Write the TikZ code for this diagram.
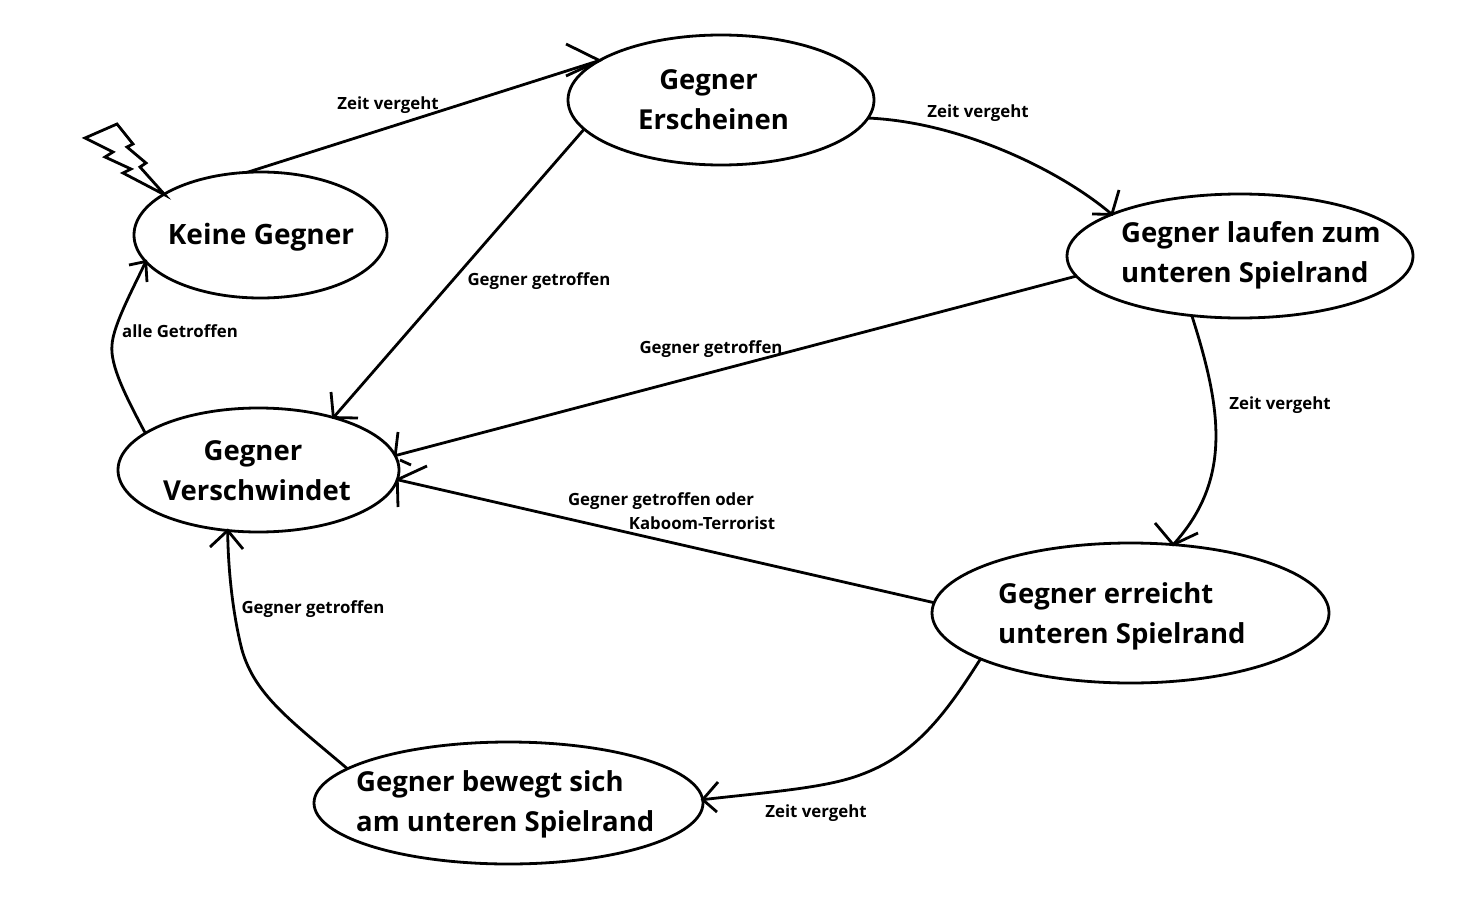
\documentclass[tikz,border=0pt]{standalone}
\usepackage{fontspec}
\setmainfont{Open Sans}
\usetikzlibrary{shapes.geometric}
\tikzset{
  x=1pt,y=-1pt,
  line/.style={line width=2.8pt,black},
  stat/.style={ellipse,draw,line width=2.8pt,inner sep=0pt,outer sep=0pt},
  big/.style={font=\fontsize{27.5}{40}\selectfont\bfseries,inner sep=0pt,align=left,anchor=west},
  bigc/.style={font=\fontsize{27.5}{40}\selectfont\bfseries,inner sep=0pt,align=center},
  small/.style={font=\fontsize{16.8}{24}\selectfont\bfseries,inner sep=0pt}
}
\begin{document}
\begin{tikzpicture}
\useasboundingbox (0,0) rectangle (1467,907);
\fill[white] (0,0) rectangle (1467,907);
% states
\node[stat,minimum width=253pt,minimum height=126pt] (ke) at (260.5,235) {};
\node[stat,minimum width=306pt,minimum height=130pt] (er) at (721,100) {};
\node[stat,minimum width=346pt,minimum height=124pt] (la) at (1240,256) {};
\node[stat,minimum width=397pt,minimum height=140pt] (re) at (1130.5,613) {};
\node[stat,minimum width=389pt,minimum height=122pt] (be) at (508.5,803) {};
\node[stat,minimum width=281pt,minimum height=124pt] (ve) at (258.5,470) {};
% state texts
\node[bigc,font=\fontsize{28}{40}\selectfont\bfseries] (tke) at (261,237) {Keine Gegner};
\node[bigc] (ter) at (713.5,100) {Gegner\hspace*{10pt}\\Erscheinen};
\node[big] (tla) at (1121,255) {Gegner laufen zum\\unteren Spielrand};
\node[big] (tre) at (998,616) {Gegner erreicht\\unteren Spielrand};
\node[big] (tbe) at (356,804) {Gegner bewegt sich\\am unteren Spielrand};
\node[bigc] (tve) at (257,471) {Gegner\hspace*{8pt}\\Verschwindet};
% connectors
\draw[line] (ke.102) -- (er.162.5) coordinate (t1);
\draw[line] (er.-7) .. controls (960,122) and (1060,170) .. (la.162.5) coordinate (t2);
\draw[line] (la.-129) .. controls (1222,410) and (1232,480) .. (re.58.8) coordinate (t3);
\draw[line] (re.197.4) .. controls (945,715) and (915,755) .. (860,775) .. controls (825,788) and (770,792) .. (be.1.2) coordinate (t4);
\draw[line] (be.168.6) .. controls (290,720) and (255,695) .. (242,650) .. controls (233,615) and (228,570) .. (ve.-117.5) coordinate (t5);
\draw[line] (ve.162.2) .. controls (125,395) and (110,365) .. (112,345) .. controls (113,325) and (135,285) .. (ke.193.8) coordinate (t6);
\draw[line] (er.192.8) -- (ve.35.2) coordinate (t7);
\draw[line] (la.187.3) -- (ve.6.1) coordinate (t8);
\draw[line] (re.177.1) -- (ve.-4.6) coordinate (t9);
% arrow barbs
\draw[line] (566,44) -- (t1) -- (566,76);
\draw[line] (1119,190) -- (t2) -- (1092,214);
\draw[line] (1155,523) -- (t3) -- (1198,533);
\draw[line] (718,782) -- (t4) -- (717,812);
\draw[line] (210,547) -- (t5) -- (243,549);
\draw[line] (129,265) -- (t6) -- (147,282);
\draw[line] (331,392) -- (t7) -- (358,418);
\draw[line] (398,432) -- (t8);
\draw[line] (400,460) -- (411,465);
\draw[line] (427,466) -- (t9) -- (398,507);
% lightning
\draw[line,line join=miter] (85,138) -- (117,124) -- (133,144) -- (127,147) -- (146,163) -- (140,167) -- (165,195) -- (123,173) -- (131,169) -- (105,157) -- (113,152) -- cycle;
% labels
\node[small] (l1) at (388,105) {Zeit vergeht};
\node[small] (l2) at (978,113) {Zeit vergeht};
\node[small] (l3) at (1280,405) {Zeit vergeht};
\node[small] (l4) at (816,813) {Zeit vergeht};
\node[small] (l5) at (539,281) {Gegner getroffen};
\node[small] (l6) at (711,349) {Gegner getroffen};
\node[small] (l7) at (313,609) {Gegner getroffen};
\node[small] (l8) at (180,331) {alle Getroffen};
\node[small] (l9) at (661,501) {Gegner getroffen oder};
\node[small] (l10) at (702,523) {Kaboom-Terrorist};
\end{tikzpicture}
\end{document}
